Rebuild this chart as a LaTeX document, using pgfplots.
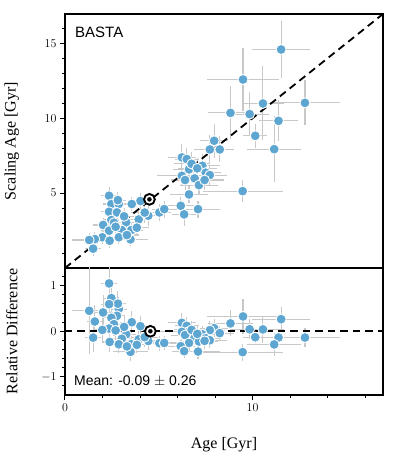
\documentclass[border=0pt]{standalone}
\usepackage{fontspec}
\setmainfont{Liberation Serif}
\newfontfamily\sansf{Liberation Sans}
\usepackage{pgfplots}
\usepackage{pgfplotstable}
\pgfplotsset{compat=1.18}
\definecolor{ptblue}{RGB}{94,166,210}
\definecolor{errgray}{RGB}{200,200,200}

\pgfplotstableread{
x ex y ey r er
11.52 1.41 14.58 1.75 0.266 0.22
9.49 1.78 12.58 1.94 0.326 0.32
10.55 1.00 10.98 2.30 0.041 0.24
12.79 1.72 11.02 1.33 -0.138 0.16
8.82 1.07 10.35 1.60 0.173 0.23
9.84 0.90 10.27 1.30 0.044 0.16
11.38 0.93 9.82 1.20 -0.137 0.13
11.15 1.30 7.93 2.05 -0.289 0.20
10.14 0.50 8.82 0.65 -0.130 0.08
9.47 2.00 5.13 0.55 -0.458 0.13
7.95 0.60 8.49 0.95 0.068 0.14
7.72 0.70 7.91 0.80 0.025 0.14
8.25 0.60 7.91 0.70 -0.041 0.11
6.23 0.60 7.38 0.70 0.185 0.16
6.49 0.50 7.27 0.60 0.120 0.13
7.32 0.80 6.82 0.60 -0.068 0.13
6.61 0.70 6.58 0.50 -0.005 0.13
6.23 1.20 6.15 0.50 -0.013 0.21
6.40 0.60 5.87 0.50 -0.083 0.12
6.91 0.60 5.98 0.50 -0.135 0.10
7.50 0.70 6.36 0.60 -0.152 0.11
7.72 0.80 6.20 0.50 -0.197 0.11
7.14 0.90 5.53 0.40 -0.225 0.11
7.44 0.90 5.87 0.50 -0.211 0.12
6.61 0.90 4.91 0.40 -0.257 0.12
6.17 0.60 4.15 0.40 -0.327 0.09
6.35 0.50 3.58 0.60 -0.436 0.10
7.09 1.06 3.93 0.40 -0.446 0.10
4.02 0.50 4.47 0.40 0.112 0.17
5.03 0.50 3.71 0.40 -0.262 0.11
5.29 0.50 3.93 0.40 -0.257 0.10
4.44 0.60 3.49 0.50 -0.214 0.15
2.35 0.30 4.82 0.40 1.051 0.31
2.47 0.30 4.27 0.40 0.729 0.26
2.87 0.30 4.27 0.40 0.488 0.21
2.82 0.30 4.53 0.40 0.606 0.22
3.56 0.50 4.27 0.30 0.199 0.19
2.35 0.30 3.75 0.40 0.596 0.27
2.77 0.30 3.71 0.40 0.339 0.20
2.47 0.30 3.20 0.40 0.296 0.23
2.61 0.30 3.02 0.40 0.157 0.20
3.93 0.40 3.24 0.40 -0.176 0.13
3.26 0.40 3.04 0.40 -0.067 0.17
2.03 0.40 2.87 0.30 0.414 0.32
2.35 0.30 2.49 0.30 0.060 0.19
3.03 0.40 2.53 0.30 -0.165 0.15
3.53 0.50 2.53 0.30 -0.283 0.13
3.83 0.50 2.69 0.30 -0.298 0.12
1.99 0.30 2.05 0.30 0.030 0.22
1.59 0.30 1.93 0.30 0.214 0.30
1.29 0.80 1.87 0.30 0.450 0.90
2.38 0.30 1.82 0.30 -0.235 0.16
2.87 0.40 2.05 0.30 -0.286 0.14
3.49 0.80 1.91 0.30 -0.453 0.15
1.50 0.30 1.29 0.30 -0.140 0.26
6.75 0.80 6.95 0.60 0.030 0.15
7.05 0.90 6.65 0.50 -0.057 0.14
3.15 0.40 3.45 0.40 0.095 0.19
2.70 0.30 2.75 0.30 0.019 0.16
3.30 0.50 2.20 0.30 -0.333 0.14
4.25 0.60 3.70 0.50 -0.129 0.17
}\data

\pgfplotsset{
  basta/.style={
    scale only axis, width=318pt, xmin=0, xmax=16.95,
    axis line style={line width=1.3pt},
    tick style={black, line width=1pt},
    tick align=outside,
    major tick length=5pt, minor tick length=3pt,
    xtick pos=bottom, ytick pos=left,
    tick label style={font=\fontsize{13}{15}\selectfont},
  },
  errs/.style={only marks, mark=none,
    error bars/.cd, x dir=both, x explicit, y dir=both, y explicit,
    error bar style={errgray, line width=1.1pt, solid},
    error mark options={errgray, mark size=2.5pt, line width=1.1pt, solid}},
  ptsty/.style={only marks, mark=*, mark size=5pt,
    mark options={solid, fill=ptblue, draw=white, line width=0.9pt}},
  dashsty/.style={black, line width=1.8pt, dash pattern=on 7.5pt off 5pt},
}

\begin{document}
\begin{tikzpicture}
\path (-65pt,-189pt) rectangle (331pt,268pt);
\begin{axis}[basta, at={(0,0)}, anchor=south west, height=254pt,
  ymin=0, ymax=16.95,
  xtick=\empty, minor xtick={},
  ytick={5,10,15}, minor ytick={1,2,3,4,6,7,8,9,11,12,13,14,16},
  ylabel={Scaling Age [Gyr]},
  every axis y label/.style={at={(axis description cs:-0.167,0.5)}, rotate=90, anchor=center, font=\fontsize{16}{19}\selectfont},
]
\addplot[errs] table[x=x, y=y, x error=ex, y error=ey]{\data};
\addplot[dashsty] coordinates {(0,0) (17,17)};
\addplot[ptsty] table[x=x, y=y]{\data};
\addplot[only marks, mark=*, mark size=5.4pt, mark options={solid, fill=white, draw=black, line width=1.9pt}] coordinates {(4.50,4.58)};
\addplot[only marks, mark=*, mark size=2pt, mark options={solid, fill=black, draw=black}] coordinates {(4.50,4.58)};
\node[anchor=north west, inner sep=0pt, font=\sansf\fontsize{15}{18}\selectfont] at (rel axis cs:0,1) [xshift=10pt, yshift=-12.5pt] {BASTA};
\end{axis}
\begin{axis}[basta, at={(0,-127pt)}, anchor=south west, height=127pt,
  ymin=-1.4, ymax=1.39,
  xtick={0,10}, minor xtick={2,4,6,8,12,14,16},
  ytick={-1,0,1}, minor ytick={-1.2,-0.8,-0.6,-0.4,-0.2,0.2,0.4,0.6,0.8,1.2},
  ylabel={Relative Difference}, xlabel={Age [Gyr]},
  every axis y label/.style={at={(axis description cs:-0.167,0.5)}, rotate=90, anchor=center, font=\fontsize{16}{19}\selectfont},
  every axis x label/.style={at={(axis description cs:0.5,-0.394)}, anchor=center, font=\fontsize{16}{19}\selectfont},
]
\addplot[errs] table[x=x, y=r, x error=ex, y error=er]{\data};
\addplot[dashsty] coordinates {(0,0) (17,0)};
\addplot[ptsty] table[x=x, y=r]{\data};
\addplot[only marks, mark=*, mark size=5.4pt, mark options={solid, fill=white, draw=black, line width=1.9pt}] coordinates {(4.55,0.0)};
\addplot[only marks, mark=*, mark size=2pt, mark options={solid, fill=black, draw=black}] coordinates {(4.55,0.0)};
\node[anchor=base west, inner sep=0pt, font=\sansf\fontsize{14}{17}\selectfont] at (rel axis cs:0,0) [xshift=9pt, yshift=10pt] {Mean: -0.09 $\pm$ 0.26};
\end{axis}
\end{tikzpicture}
\end{document}
